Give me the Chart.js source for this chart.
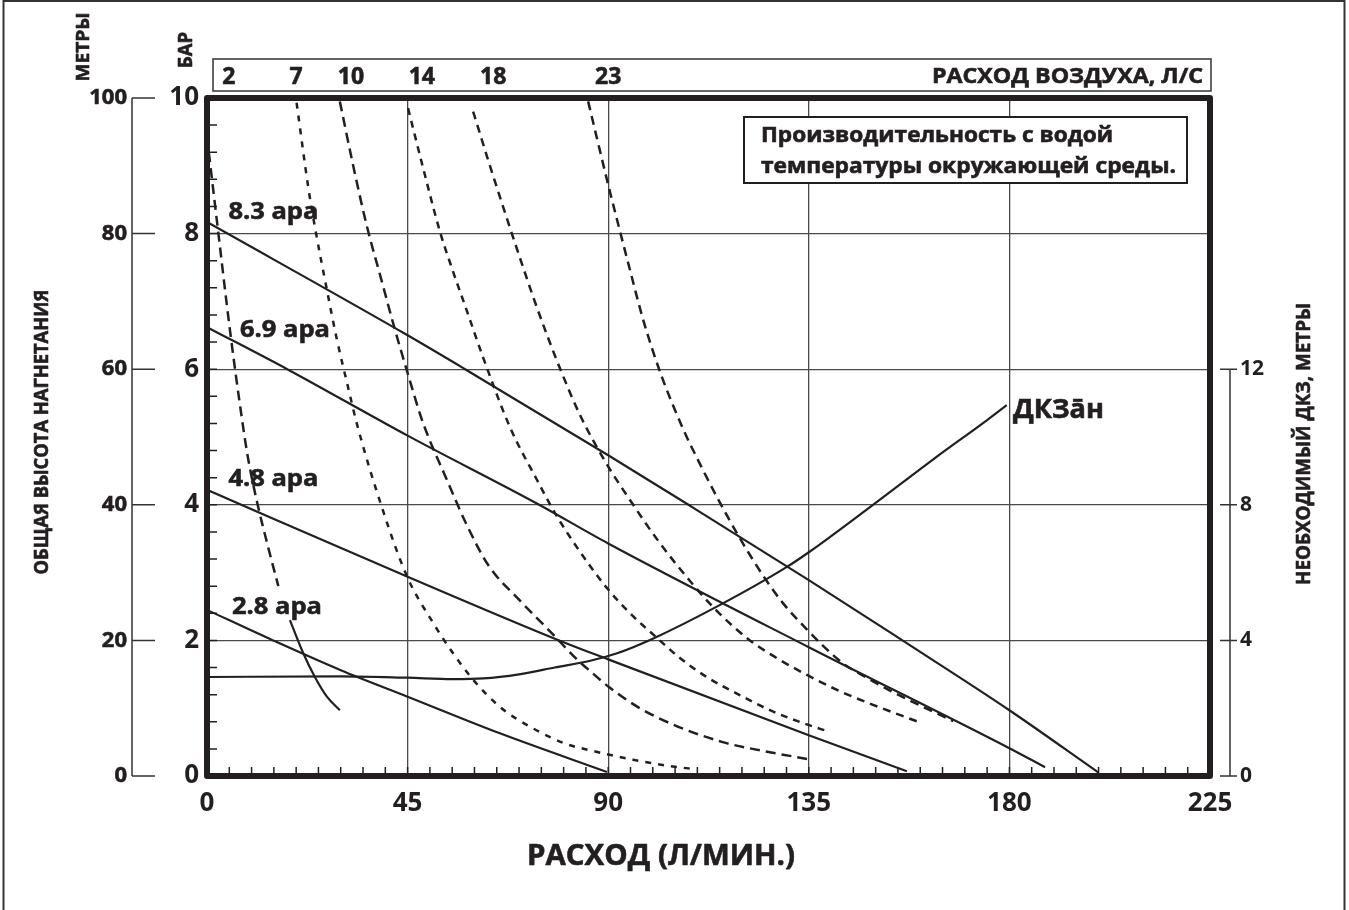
<!DOCTYPE html>
<html>
<head>
<meta charset="utf-8">
<script src="https://cdn.jsdelivr.net/npm/chart.js@4.4.1/dist/chart.umd.min.js"></script>
<style>
  html, body { margin: 0; padding: 0; background: #fff; }
  canvas { display: block; }
</style>
</head>
<body>
<canvas id="pumpChart" width="1349" height="910"></canvas>
<script>
// axis ticks
const flowTicks = [0, 45, 90, 135, 180, 225];   // Л/мин
const barTicks = [0, 2, 4, 6, 8, 10];           // бар
const meterTicks = [0, 20, 40, 60, 80, 100];    // метры
const npshTicks = [0, 4, 8, 12];                // ДКЗ, метры

// head curves (flow Л/мин, head бар)
const headNames = ["8.3 ара", "6.9 ара", "4.8 ара", "2.8 ара"];
const flow83 = [0, 45, 57.9, 90, 108, 135, 156, 180, 200];
const head83 = [8.17, 6.5, 6.0, 4.73, 4.0, 2.89, 2.0, 0.97, 0.05];
const flow69 = [0, 18, 45, 74, 90, 135, 180, 188];
const head69 = [6.62, 6.0, 5.02, 4.02, 3.43, 1.9, 0.41, 0.13];
const flow48 = [0, 45, 79, 90, 135, 157];
const head48 = [4.22, 2.94, 2.0, 1.72, 0.6, 0.07];
const flow28 = [0, 14.8, 30, 45, 65.7, 89.7];
const head28 = [2.45, 2.0, 1.56, 1.17, 0.63, 0.06];

// air consumption curves (Л/С)
const airNames = ["2", "7", "10", "14", "18", "23"];
const flowAir2 = [0.4, 2.2, 5.2, 8.1, 9.2, 11.3, 13.7, 16.0];
const barAir2 = [9.2, 8.2, 6.55, 5.15, 4.69, 4.02, 3.38, 2.8];
const flowAir2Tail = [18.6, 21.6, 24.2, 26.9, 29.8];
const barAir2Tail = [2.3, 1.81, 1.46, 1.17, 0.97];
const flowAir7 = [20.1, 22.7, 24.2, 26.9, 29.1, 31.7, 33.6, 39.2, 44.9, 50.8, 55.2, 59.7, 65.7, 73.2, 80.7, 85.9, 95.6, 104.5, 109.7];
const barAir7 = [9.93, 8.69, 8.1, 7.17, 6.45, 5.72, 5.2, 3.97, 2.94, 2.25, 1.81, 1.42, 1.02, 0.7, 0.47, 0.38, 0.24, 0.14, 0.1];
const flowAir10 = [29.8, 32.8, 35.9, 39.2, 42, 44.8, 48.4, 53.8, 58.3, 63.2, 70, 77, 83, 85.9, 90.4, 97.1, 104.5, 115.7, 124.7, 134.8];
const barAir10 = [9.95, 9.0, 8.1, 7.3, 6.62, 5.99, 5.22, 4.37, 3.7, 3.1, 2.6, 2.13, 1.72, 1.55, 1.3, 1.0, 0.76, 0.5, 0.37, 0.25];
const flowAir14 = [45.1, 48.2, 52.3, 55.2, 58.3, 61.9, 68, 74, 78.4, 85.9, 90, 94.9, 100.9, 106.1, 112.1, 119.6, 126.3, 133.7, 139.7];
const barAir14 = [9.85, 9.04, 8.02, 7.44, 6.86, 6.18, 5.14, 4.37, 3.84, 3.1, 2.75, 2.4, 2.04, 1.74, 1.46, 1.19, 0.97, 0.78, 0.65];
const flowAir18 = [59.7, 63, 66.5, 69.5, 73.1, 76.3, 79.5, 83.7, 89.5, 95.6, 101.2, 108.3, 114.3, 121.8, 127.8, 134.6, 142, 149.4, 159.5];
const barAir18 = [9.8, 9.1, 8.38, 7.78, 7.08, 6.5, 5.96, 5.32, 4.62, 4.0, 3.47, 2.88, 2.44, 2.0, 1.74, 1.49, 1.25, 1.05, 0.8];
const flowAir23 = [85.5, 87.5, 89.7, 92, 94.9, 97.8, 101.8, 106.8, 110.6, 115, 119.6, 124.7, 129.2, 134.6, 138.2, 142.7, 148, 153.2, 160.6, 167.4];
const barAir23 = [9.95, 9.4, 8.8, 8.2, 7.46, 6.74, 5.93, 5.12, 4.6, 4.04, 3.5, 2.96, 2.55, 2.16, 1.92, 1.66, 1.45, 1.26, 1.02, 0.81];

// required NPSH (flow Л/мин, метры)
const flowNpsh = [0, 30, 45, 55, 62, 70, 78, 86, 92, 100, 115, 130, 135, 149.4, 163, 175, 179.4];
const npshM = [2.92, 2.94, 2.9, 2.86, 2.88, 3.0, 3.2, 3.4, 3.62, 4.05, 5.04, 6.16, 6.6, 8.0, 9.35, 10.5, 10.94];

const FONT = "'Open Sans', 'Noto Sans', sans-serif";
const INK = '#231f20';

function pts(xs, ys) {
  return xs.map((x, i) => ({ x: x, y: ys[i] }));
}

function curve(label, xs, ys, dash, axis) {
  return {
    label: label,
    data: pts(xs, ys),
    borderColor: INK,
    borderWidth: dash ? 2.5 : 2.2,
    borderDash: dash || [],
    pointRadius: 0,
    fill: false,
    cubicInterpolationMode: 'monotone',
    yAxisID: axis || 'y'
  };
}

function drawText(ctx, text, x, y, size, width, align, angle) {
  ctx.save();
  ctx.translate(x, y);
  if (angle) ctx.rotate(angle);
  ctx.font = 'bold ' + size + 'px ' + FONT;
  const w = ctx.measureText(text).width;
  if (width) ctx.scale(width / w, 1);
  ctx.fillStyle = INK;
  ctx.strokeStyle = INK;
  ctx.lineWidth = 0.6;
  ctx.textAlign = align || 'left';
  ctx.textBaseline = 'middle';
  ctx.fillText(text, 0, 0);
  ctx.strokeText(text, 0, 0);
  ctx.restore();
}

const decor = {
  id: 'decor',
  beforeDraw(chart) {
    const ctx = chart.ctx;
    ctx.save();
    ctx.fillStyle = '#fff';
    ctx.fillRect(0, 0, chart.width, chart.height);
    ctx.restore();
  },
  afterDraw(chart) {
    const ctx = chart.ctx;
    const a = chart.chartArea;
    const x = chart.scales.x, y = chart.scales.y, yM = chart.scales.yM, y2 = chart.scales.y2;
    ctx.save();

    // page frame
    ctx.strokeStyle = '#333';
    ctx.lineWidth = 2;
    ctx.strokeRect(3.5, 1, 1341, 940);

    // minor ticks inside plot
    ctx.strokeStyle = INK;
    ctx.lineWidth = 1.5;
    ctx.beginPath();
    for (let f = 5; f < 225; f += 5) {
      const px = x.getPixelForValue(f);
      ctx.moveTo(px, a.bottom);
      ctx.lineTo(px, a.bottom - 9);
    }
    for (let b = 0.4; b < 10; b += 0.4) {
      const py = y.getPixelForValue(b);
      ctx.moveTo(a.left, py);
      ctx.lineTo(a.left + 10, py);
    }
    ctx.stroke();

    // meters axis (outer left)
    ctx.strokeStyle = '#333';
    ctx.lineWidth = 1.5;
    ctx.beginPath();
    ctx.moveTo(132, yM.getPixelForValue(100));
    ctx.lineTo(132, yM.getPixelForValue(0));
    meterTicks.forEach(m => {
      const py = yM.getPixelForValue(m);
      ctx.moveTo(132, py);
      ctx.lineTo(155, py);
    });
    ctx.stroke();
    meterTicks.forEach(m => drawText(ctx, String(m), 127, yM.getPixelForValue(m), 22, 0, 'right'));

    // NPSH axis line (right)
    ctx.beginPath();
    ctx.moveTo(1230, y2.getPixelForValue(12));
    ctx.lineTo(1230, y2.getPixelForValue(0));
    npshTicks.forEach(m => {
      const py = y2.getPixelForValue(m);
      ctx.moveTo(1220, py);
      ctx.lineTo(1237, py);
    });
    ctx.stroke();

    // air consumption box at top
    ctx.strokeStyle = '#333';
    ctx.lineWidth = 1.5;
    ctx.strokeRect(213, 59, 998, 32);
    const airLabelFlow = [4.9, 20, 32.3, 48.2, 64.2, 90];
    airNames.forEach((t, i) => drawText(ctx, t, x.getPixelForValue(airLabelFlow[i]), 77, 23, 0, 'center'));
    drawText(ctx, 'РАСХОД ВОЗДУХА, Л/С', 1203, 77, 21, 271, 'right');

    // note box
    ctx.fillStyle = '#fff';
    ctx.fillRect(744, 117, 443, 66);
    ctx.strokeStyle = INK;
    ctx.lineWidth = 2;
    ctx.strokeRect(744, 117, 443, 66);
    drawText(ctx, 'Производительность с водой', 761, 136, 21, 352);
    drawText(ctx, 'температуры окружающей среды.', 761, 167, 21, 415);

    // curve labels
    const labelPos = [[4.8, 8.32], [7.4, 6.58], [4.8, 4.38], [5.6, 2.49]];
    headNames.forEach((t, i) => drawText(ctx, t, x.getPixelForValue(labelPos[i][0]), y.getPixelForValue(labelPos[i][1]), 24, 90));
    drawText(ctx, 'ДКЗāн', 1013, 411, 26, 91);

    // thick plot frame
    ctx.strokeStyle = INK;
    ctx.lineWidth = 6;
    ctx.lineJoin = 'round';
    ctx.strokeRect(a.left, a.top, a.right - a.left, a.bottom - a.top);

    // axis titles
    drawText(ctx, 'РАСХОД (Л/МИН.)', 661, 857, 28, 268, 'center');
    drawText(ctx, 'ОБЩАЯ ВЫСОТА НАГНЕТАНИЯ', 43, 432, 19, 285, 'center', -Math.PI / 2);
    drawText(ctx, 'НЕОБХОДИМЫЙ ДКЗ, МЕТРЫ', 1305, 444, 19, 282, 'center', -Math.PI / 2);
    drawText(ctx, 'МЕТРЫ', 84, 47, 18, 69, 'center', -Math.PI / 2);
    drawText(ctx, 'БАР', 187, 50, 19, 36, 'center', -Math.PI / 2);

    ctx.restore();
  }
};

const datasets = [
  curve(headNames[0], flow83, head83),
  curve(headNames[1], flow69, head69),
  curve(headNames[2], flow48, head48),
  curve(headNames[3], flow28, head28),
  curve(airNames[0], flowAir2, barAir2, [10, 6]),
  curve(airNames[0] + ' tail', flowAir2Tail, barAir2Tail),
  curve(airNames[1], flowAir7, barAir7, [6, 7]),
  curve(airNames[2], flowAir10, barAir10, [10, 6]),
  curve(airNames[3], flowAir14, barAir14, [7, 6]),
  curve(airNames[4], flowAir18, barAir18, [8, 6]),
  curve(airNames[5], flowAir23, barAir23, [9, 6]),
  curve('ДКЗ', flowNpsh, npshM, null, 'y2')
];

const tickFont = size => ({ family: FONT, size: size, weight: 'bold' });

new Chart(document.getElementById('pumpChart'), {
  type: 'line',
  data: { datasets: datasets },
  options: {
    responsive: false,
    animation: false,
    devicePixelRatio: 1,
    layout: { padding: { top: 98, left: 0, right: 0, bottom: 0 } },
    plugins: { legend: { display: false }, tooltip: { enabled: false } },
    scales: {
      x: {
        type: 'linear',
        position: 'bottom',
        min: flowTicks[0],
        max: flowTicks[flowTicks.length - 1],
        afterBuildTicks: s => { s.ticks = flowTicks.map(v => ({ value: v })); },
        ticks: { font: tickFont(26), color: INK, padding: 12, maxRotation: 0, autoSkip: false },
        grid: { color: '#4a4a4a', lineWidth: 1.3, drawTicks: false },
        border: { display: false },
        afterFit: s => { s.height = 134; }
      },
      y: {
        type: 'linear',
        position: 'left',
        min: barTicks[0],
        max: barTicks[barTicks.length - 1],
        afterBuildTicks: s => { s.ticks = barTicks.map(v => ({ value: v })); },
        ticks: { font: tickFont(26), color: INK, padding: 8, autoSkip: false },
        grid: { color: '#4a4a4a', lineWidth: 1.3, drawTicks: false },
        border: { display: false },
        afterFit: s => { s.width = 207; }
      },
      yM: {
        type: 'linear',
        position: 'left',
        display: false,
        min: meterTicks[0],
        max: meterTicks[meterTicks.length - 1]
      },
      y2: {
        type: 'linear',
        position: 'right',
        min: 0,
        max: 20,
        afterBuildTicks: s => { s.ticks = npshTicks.map(v => ({ value: v })); },
        ticks: { font: tickFont(21), color: INK, padding: 30, autoSkip: false },
        grid: { drawOnChartArea: false, drawTicks: false },
        border: { display: false },
        afterFit: s => { s.width = 139; }
      }
    }
  },
  plugins: [decor]
});
</script>
</body>
</html>
